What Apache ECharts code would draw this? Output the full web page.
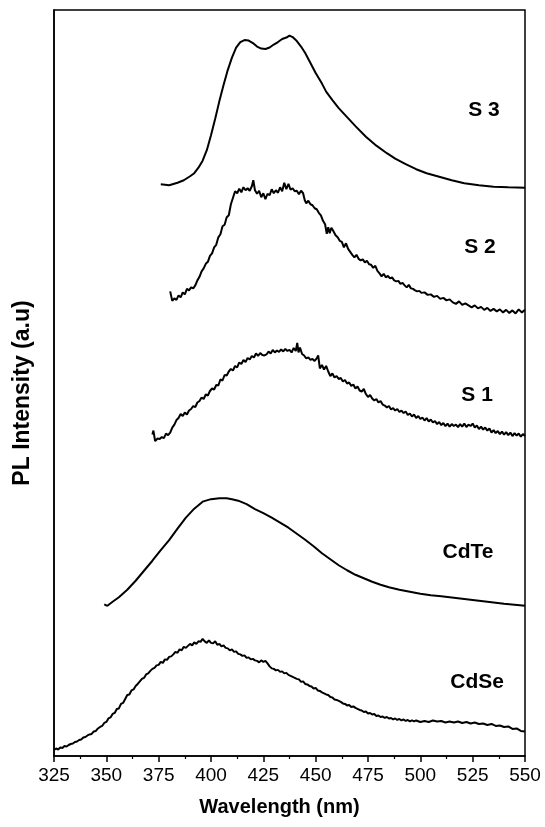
<!DOCTYPE html>
<html>
<head>
<meta charset="utf-8">
<title>PL spectra</title>
<script src="https://cdn.jsdelivr.net/npm/echarts@6/dist/echarts.min.js"></script>
<style>
  html, body { margin: 0; padding: 0; background: #fff; }
  #chart { width: 545px; height: 827px; }
</style>
</head>
<body>
<div id="chart"></div>
<script>
// wavelength (nm) / PL intensity (a.u., curves stacked with offsets)
var s3Data = [[376,114.2],[380,114],[384,114.5],[387,115],[390,115.8],[392,116.4],[394,117.5],[396,118.9],[398,121],[400,124],[402,127.3],[404,130.8],[406,134],[408,137],[410,139.5],[412,141.5],[414,142.6],[416,143],[418,142.9],[420,142.4],[422,141.7],[424,141.3],[426,141.2],[428,141.5],[430,142.1],[432,142.6],[434,143.2],[436,143.5],[437.5,143.9],[439,143.6],[441,142.8],[443,141.7],[445,140.4],[447,138.8],[450,136.4],[453,134.3],[455,132.7],[458,131],[461,129.4],[465,127.6],[469,125.8],[474,123.7],[479,121.9],[484,120.4],[488,119.3],[493,118.2],[498,117.2],[503,116.4],[509,115.7],[515,115],[521,114.4],[528,114],[535,113.7],[542,113.6],[550,113.5]];

var s2Data = [[380.5,92.8],[381.5,90.9],[382.5,91.4],[383.5,91.1],[384.5,92.0],[385.5,91.6],[386.5,92.6],[387.5,92.2],[388.5,93.3],[389.5,93.0],[390.5,93.6],[391.5,93.4],[392.5,94.0],[393.5,95.0],[394.5,95.7],[395.5,96.8],[396.5,97.4],[397.5,98.3],[398.5,98.7],[399.5,99.9],[400.5,100.4],[401.5,101.6],[402.5,102.1],[403.5,103.6],[404.5,104.2],[405.5,105.8],[406.5,106.1],[407.5,107.6],[408.5,108.0],[409.5,110.2],[410.5,111.5],[411.5,112.8],[412.5,112.4],[413.5,113.3],[414.5,112.6],[415.5,113.6],[416.5,113.0],[417.5,113.4],[418.5,112.9],[419.5,113.8],[420.2,115.0],[421,113.0],[422,112.3],[423,112.9],[424,111.6],[425,112.4],[426,111.2],[427,112.3],[428,112.0],[429,113.2],[430,112.4],[431,113.0],[432,112.5],[433,113.6],[434,112.8],[435,114.5],[436,113.2],[437,114.3],[438,113.1],[439,113.4],[440,112.8],[441,112.9],[442,112.2],[443,112.9],[444,112.4],[444.8,111.0],[445.5,110.4],[446.5,110.9],[447.5,110.2],[448.5,110.0],[449.5,109.4],[450.5,109.2],[451.5,108.5],[452.5,108.0],[453.5,106.9],[454.5,106.2],[455.3,104.3],[456,105.6],[456.7,104.4],[457.5,105.5],[458.5,104.8],[459.5,104.0],[460.5,103.6],[461.5,102.9],[462.5,102.7],[463.5,101.6],[464.5,102.4],[465.5,101.3],[466.5,100.7],[467.5,100.1],[468.5,99.6],[469.5,100.1],[470.5,99.3],[471.5,99.0],[472.5,99.2],[473.5,98.6],[474.5,98.9],[475.5,98.2],[476.5,98.1],[477.5,97.5],[478.5,97.9],[479.5,96.9],[480.5,96.4],[481.5,95.8],[482.5,96.3],[483.5,95.6],[484.5,95.9],[485.5,95.4],[486.5,95.6],[487.5,95.0],[488.5,94.8],[489.5,94.9],[490.5,94.3],[491.5,94.5],[492.5,94.0],[493.5,93.6],[494.5,94.1],[495.5,93.4],[496.5,93.3],[497.5,93.0],[498.5,92.8],[499.5,92.9],[500.5,92.5],[502,92.6],[503.5,92.1],[505,92.2],[506.5,91.7],[508,91.9],[509.5,91.3],[511,91.5],[512.5,91.0],[514,91.2],[515.5,90.6],[517,90.3],[518.5,90.8],[520,90.1],[521.5,90.4],[523,90.0],[524.5,89.6],[526,90.0],[527.5,89.4],[529,89.7],[530.5,89.1],[532,89.5],[533.5,88.9],[535,89.3],[536.5,88.8],[538,89.2],[539.5,88.6],[541,89.1],[542.5,88.5],[544,89.0],[545.5,88.4],[547,89.2],[548.5,88.6],[550,89.1]];

var s1Data = [[372,64.2],[372.5,65.0],[373.3,62.9],[374.5,63.4],[375.5,63.3],[376.5,63.7],[377.5,63.5],[378.5,64.4],[379.5,64.1],[380.5,64.6],[381.5,65.6],[382.5,66.2],[383.5,67.1],[384.5,67.5],[385.5,68.3],[386.5,67.9],[387.5,68.6],[388.5,68.2],[389.5,69.0],[390.5,69.3],[391.5,69.9],[392.5,69.7],[393.5,70.6],[394.5,70.9],[395.5,71.6],[396.5,71.3],[397.5,72.2],[398.5,72.0],[399.5,72.9],[400.5,73.4],[401.5,73.2],[402.5,74.1],[403.5,74.0],[404.5,75.2],[405.5,75.0],[406.5,76.1],[407.5,76.0],[408.5,76.8],[409.5,77.3],[410.5,77.0],[411.5,77.9],[412.5,77.6],[413.5,78.6],[414.5,78.3],[415.5,79.1],[416.5,78.7],[417.5,79.5],[418.5,79.2],[419.5,79.9],[420.5,79.6],[421.5,80.4],[422.5,79.9],[423.5,80.5],[424.5,80.1],[425.5,80.0],[426.5,80.2],[427.5,80.8],[428.5,80.4],[429.5,81.1],[430.5,80.6],[431.5,81.0],[432.5,80.7],[433.5,81.2],[434.5,80.8],[435.5,81.3],[436.5,80.9],[437.5,81.1],[438.5,80.6],[439.5,81.5],[440.5,80.9],[441.2,82.5],[441.8,80.6],[442.5,81.6],[443.5,80.3],[444.5,80.0],[445.5,79.4],[446.5,79.6],[447.5,79.1],[448.5,79.3],[449.5,78.9],[450.5,79.4],[451.2,80.0],[452,77.4],[453,78.1],[454,77.2],[455,77.9],[456,76.8],[457,75.9],[458,76.4],[459,75.6],[460,75.9],[461,75.3],[462,75.5],[463,74.8],[464,75.1],[465,74.4],[466,74.6],[467,73.9],[468,74.2],[469,73.4],[470,73.8],[471,73.0],[472,72.8],[473,73.3],[474,72.3],[475,71.7],[476,72.1],[477,71.4],[478,71.0],[479,71.3],[480,70.6],[481,70.9],[482,70.2],[483,70.0],[484,69.6],[485,69.9],[486,69.2],[487,69.5],[488,69.0],[489,69.3],[490,68.7],[491,69.0],[492,68.5],[493,68.8],[494,68.1],[495,68.4],[496,67.8],[497,68.2],[498,67.5],[499,67.9],[500,67.3],[501,67.6],[502,67.0],[503,67.5],[504,66.8],[505,67.2],[506,66.6],[507,66.9],[508,66.3],[509,66.7],[510,66.1],[511,66.5],[512,65.9],[513,66.4],[514,65.8],[515,66.3],[516,65.9],[517,66.2],[518,65.7],[519,66.3],[520,65.8],[521,66.4],[522,65.7],[523,66.2],[524,65.9],[525,66.4],[526,65.6],[527,66.0],[528,65.3],[529,65.8],[530,65.2],[531,65.6],[532,65.0],[533,65.4],[534,64.6],[535,65.1],[536,64.5],[537,64.9],[538,64.3],[539,64.8],[540,64.2],[541,64.7],[542,64.1],[543,64.6],[544,63.9],[545,64.5],[546,64.0],[547,64.4],[548,63.8],[549,64.3],[550,63.9]];

var cdteData = [[349,30.3],[350.5,30],[353,30.8],[356,31.7],[360,33.2],[364,35],[368,37],[372,39],[376,41.1],[380,43.1],[384,45.4],[388,47.6],[392,49.4],[396,50.8],[400,51.3],[404,51.5],[407.5,51.5],[410,51.3],[413,51],[417,50.3],[421,49.3],[425,48.5],[429,47.6],[433,46.6],[437,45.6],[441,44.4],[445,43.2],[449,41.9],[453,40.5],[457,39.3],[461,38.1],[465,37.1],[469,36.2],[473,35.5],[477,34.8],[481,34.2],[485,33.7],[490,33.2],[495,32.8],[500,32.4],[505,32.1],[510,31.9],[516,31.6],[522,31.3],[528,31],[534,30.7],[540,30.4],[545,30.2],[550,30]];

var cdseData = [[325,1.2],[326,1.5],[327,1.3],[328,1.7],[329,1.6],[330,2.0],[331,1.9],[332,2.2],[333,2.4],[334,2.5],[335,2.8],[336,2.9],[337,3.2],[338,3.3],[339,3.7],[340,3.8],[341,4.1],[342,4.3],[343,4.4],[344,4.9],[345,5.0],[346,5.5],[347,5.8],[348,6.0],[349,6.6],[350,6.8],[351,7.5],[352,7.7],[353,8.4],[354,8.6],[355,9.4],[356,9.5],[357,10.4],[358,10.6],[359,11.4],[360,12.2],[361,12.3],[362,13.1],[363,13.3],[364,14.0],[365,14.4],[366,14.9],[367,15.4],[368,15.6],[369,16.3],[370,16.5],[371,17.0],[372,17.4],[373,17.6],[374,18.1],[375,18.2],[376,18.8],[377,18.6],[378,19.3],[379,19.2],[380,19.8],[381,19.9],[382,20.3],[383,20.8],[384,20.6],[385,21.3],[386,21.1],[387,21.8],[388,21.6],[389,22.0],[390,22.4],[391,22.1],[392,22.7],[393,22.4],[394,22.9],[395,22.8],[396,23.4],[397,22.9],[398,22.6],[399,23.1],[400,22.6],[401,22.5],[402,22.9],[403,22.2],[404,22.4],[405,21.9],[406,22.1],[407,21.6],[408,21.5],[409,21.1],[410,21.3],[411,20.8],[412,20.9],[413,20.4],[414,20.3],[415,20.0],[416,20.1],[417,19.6],[418,19.7],[419,19.3],[420,19.4],[421,19.1],[422,19.0],[423,18.7],[424,19.1],[425,18.8],[426,19.0],[427,18.5],[428,17.9],[429,17.5],[430,17.4],[431,17.1],[432,17.2],[433,16.8],[434,16.9],[435,16.5],[436,16.6],[437,16.2],[438,16.0],[439,15.8],[440,15.6],[441,15.4],[442,15.3],[443,14.8],[444,14.9],[445,14.4],[446,14.3],[447,14.0],[448,13.9],[449,13.5],[450,13.6],[451,13.1],[452,13.0],[453,12.7],[454,12.5],[455,12.3],[456,12.2],[457,11.8],[458,11.7],[459,11.3],[460,11.2],[461,11.0],[462,10.8],[463,10.5],[464,10.4],[465,10.1],[466,10.2],[467,9.8],[468,9.9],[469,9.6],[470,9.4],[471,9.2],[472,9.1],[473,8.8],[474,8.9],[475,8.5],[476,8.6],[477,8.3],[478,8.4],[479,8.0],[480,8.1],[481,7.8],[482,7.9],[483,7.6],[484,7.8],[485,7.5],[486,7.6],[487,7.3],[488,7.5],[489,7.2],[490,7.4],[491,7.1],[492,7.3],[493,7.0],[494,7.2],[495,6.9],[496,7.1],[497,6.9],[498,7.1],[500,6.8],[502,7.0],[504,6.8],[506,7.1],[508,6.9],[510,7.0],[512,6.7],[514,6.9],[516,6.7],[518,6.9],[520,6.6],[522,6.8],[524,6.5],[526,6.7],[528,6.4],[530,6.5],[532,6.2],[534,6.4],[536,6.0],[538,6.1],[540,5.8],[542,5.9],[544,5.4],[546,5.5],[548,5.0],[550,4.9]];

var seriesNames = ['S 3', 'S 2', 'S 1', 'CdTe', 'CdSe'];
var seriesData = [s3Data, s2Data, s1Data, cdteData, cdseData];
// where each sample name sits, in data units [wavelength, intensity]
var nameAnchors = [[530.4, 128.9], [528.5, 101.7], [527.1, 72], [522.8, 40.7], [527.1, 14.7]];

var xMin = 325, xMax = 550, xStep = 25;
var yMin = 0, yMax = 149;

var myChart = echarts.init(document.getElementById('chart'));
var font = 'Arial, "Liberation Sans", Helvetica, sans-serif';

var series = seriesData.map(function (d, i) {
    return {
        name: seriesNames[i],
        type: 'line',
        data: d,
        showSymbol: false,
        symbol: 'none',
        silent: true,
        lineStyle: { color: '#000', width: 2 },
        markPoint: {
            symbol: 'circle',
            symbolSize: 0,
            silent: true,
            data: [{ coord: nameAnchors[i] }],
            label: {
                show: true,
                position: 'inside',
                formatter: seriesNames[i],
                color: '#000',
                fontFamily: font,
                fontWeight: 'bold',
                fontSize: 21
            }
        }
    };
});

var option = {
    backgroundColor: '#fff',
    animation: false,
    grid: {
        left: 54,
        right: 20,
        top: 10,
        bottom: 71,
        show: true,
        borderColor: '#000',
        borderWidth: 1.5,
        backgroundColor: 'transparent'
    },
    xAxis: {
        type: 'value',
        min: xMin,
        max: xMax,
        interval: xStep,
        name: 'Wavelength (nm)',
        nameLocation: 'middle',
        nameGap: 41,
        nameTextStyle: { color: '#000', fontFamily: font, fontWeight: 'bold', fontSize: 20, padding: [0, 20, 0, 0] },
        axisLine: { show: true, lineStyle: { color: '#000', width: 1.5 } },
        axisTick: { show: true, inside: false, length: 6, lineStyle: { color: '#000', width: 1.5 } },
        minorTick: { show: true, splitNumber: 2, length: 3, lineStyle: { color: '#000', width: 1.2 } },
        axisLabel: { color: '#000', fontFamily: font, fontSize: 19, margin: 10 },
        splitLine: { show: false }
    },
    yAxis: {
        type: 'value',
        min: yMin,
        max: yMax,
        name: 'PL Intensity (a.u)',
        nameLocation: 'middle',
        nameGap: 20,
        nameTextStyle: { color: '#000', fontFamily: font, fontWeight: 'bold', fontSize: 23, padding: [0, 20, 0, 0] },
        axisLine: { show: true, lineStyle: { color: '#000', width: 1.5 } },
        axisTick: { show: false },
        axisLabel: { show: false },
        splitLine: { show: false }
    },
    series: series
};

myChart.setOption(option);
window.addEventListener('resize', function () {
    myChart.resize();
});
</script>
</body>
</html>
